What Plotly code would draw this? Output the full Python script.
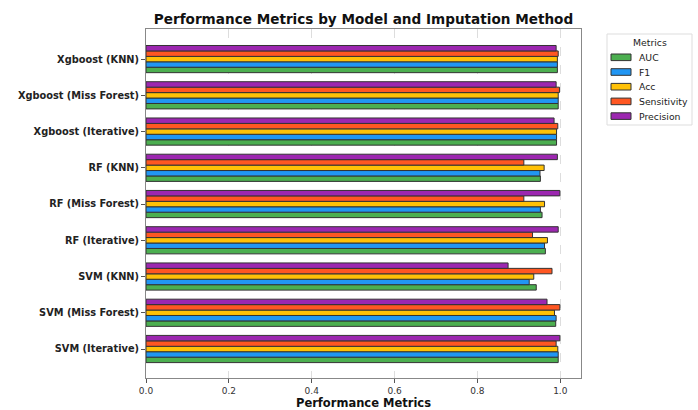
import plotly.graph_objects as go

models = ["SVM (Iterative)", "SVM (Miss Forest)", "SVM (KNN)",
          "RF (Iterative)", "RF (Miss Forest)", "RF (KNN)",
          "Xgboost (Iterative)", "Xgboost (Miss Forest)", "Xgboost (KNN)"]

auc = [0.995, 0.989, 0.942, 0.964, 0.956, 0.952, 0.991, 0.995, 0.993]
f1 = [0.995, 0.990, 0.925, 0.962, 0.952, 0.951, 0.991, 0.995, 0.993]
acc = [0.994, 0.986, 0.936, 0.969, 0.962, 0.961, 0.991, 0.995, 0.993]
sensitivity = [0.990, 0.999, 0.980, 0.933, 0.912, 0.912, 0.994, 0.998, 0.995]
precision = [0.999, 0.968, 0.874, 0.995, 0.999, 0.993, 0.985, 0.990, 0.990]

metric_names = ["AUC", "F1", "Acc", "Sensitivity", "Precision"]
metric_values = [auc, f1, acc, sensitivity, precision]
colors = ["#4CAF50", "#2196F3", "#FFC107", "#FF5722", "#9C27B0"]

W, H = 698, 410
L, R, T, B = 146, 117, 29, 32
PW, PH = W - L - R, H - T - B


def px(x):
    return (x - L) / PW


def py(y):
    return (H - B - y) / PH


fig = go.Figure()
for name, vals, col in zip(metric_names, metric_values, colors):
    fig.add_trace(go.Bar(
        x=vals, y=models, orientation="h", name=name, showlegend=False,
        marker=dict(color=col, line=dict(color="#333333", width=1)),
    ))

# legend drawn as shapes + text (matches the compact matplotlib legend)
shapes = [dict(type="rect", xref="paper", yref="paper",
               x0=px(607), x1=px(692), y0=py(125), y1=py(34),
               line=dict(color="#dddddd", width=1), fillcolor="white", layer="above")]
annotations = [dict(text="Metrics", xref="paper", yref="paper", x=px(649.5), y=py(42),
                    xanchor="center", yanchor="middle", showarrow=False,
                    font=dict(size=9.3, color="#222222"))]
for i, (name, col) in enumerate(zip(metric_names, colors)):
    yc = 57.3 + i * 14.7
    shapes.append(dict(type="rect", xref="paper", yref="paper",
                       x0=px(611), x1=px(631), y0=py(yc + 3.3), y1=py(yc - 3.3),
                       line=dict(color="#333333", width=1), fillcolor=col, layer="above"))
    annotations.append(dict(text=name, xref="paper", yref="paper", x=px(637), y=py(yc),
                            xanchor="left", yanchor="middle", showarrow=False,
                            font=dict(size=9.3, color="#222222")))

font = "DejaVu Sans"
fig.update_layout(
    template="none",
    width=W, height=H,
    barmode="group", bargap=0.25, bargroupgap=0,
    margin=dict(l=L, r=R, t=T, b=B, autoexpand=False),
    paper_bgcolor="white", plot_bgcolor="white",
    font=dict(family=font, size=9, color="#222222"),
    showlegend=False,
    shapes=shapes, annotations=annotations,
    title=dict(text="<b>Performance Metrics by Model and Imputation Method</b>",
               x=(146 + 581) / 2 / W, xanchor="center", y=1 - 19 / H, yanchor="middle",
               font=dict(size=13.6, color="#111111")),
    xaxis=dict(
        automargin=False,
        range=[0, 1.05], tickvals=[0, 0.2, 0.4, 0.6, 0.8, 1.0], tickformat=".1f",
        showgrid=True, gridcolor="#dddddd", griddash="dash", gridwidth=1,
        showline=True, linecolor="#888888", linewidth=1, mirror=True,
        ticks="outside", ticklen=4, tickcolor="#555555",
        zeroline=False,
        title=dict(text="<b>Performance Metrics</b>", font=dict(size=11.5, color="#111111"), standoff=4),
        tickfont=dict(size=9, color="#333333"),
    ),
    yaxis=dict(
        automargin=False,
        categoryorder="array", categoryarray=models,
        range=[-0.8, 8.83],
        showgrid=False, showline=True, linecolor="#888888", linewidth=1, mirror=True,
        ticks="outside", ticklen=4, tickcolor="#555555",
        tickfont=dict(size=9.8, color="#222222"),
        tickvals=models, ticktext=["<b>" + m + "</b>" for m in models],
    ),
)

fig.write_html("out.html", config={"displayModeBar": False},
               post_script="document.body.style.margin='0';document.body.style.overflow='hidden';")
